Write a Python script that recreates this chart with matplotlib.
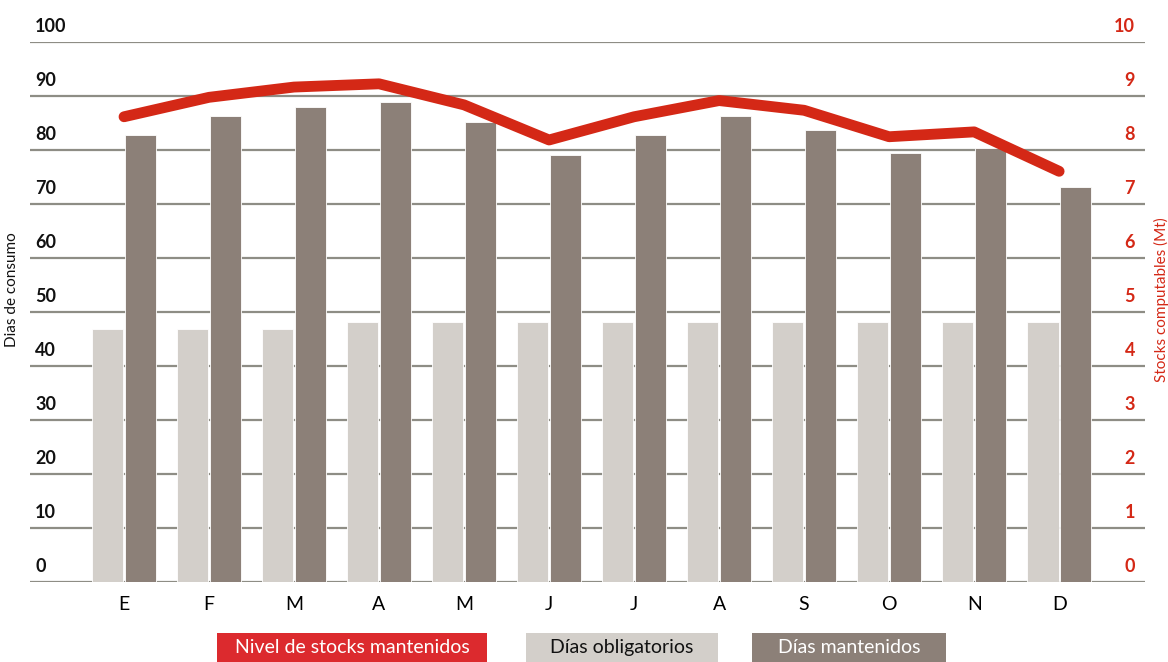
import matplotlib
matplotlib.use("Agg")
import matplotlib.pyplot as plt
from matplotlib.patches import Rectangle
import matplotlib.transforms as mtransforms

months = ["E", "F", "M", "A", "M", "J", "J", "A", "S", "O", "N", "D"]
dias_obligatorios = [46.8, 46.8, 46.8, 48.1, 48.1, 48.1, 48.1, 48.1, 48.1, 48.1, 48.1, 48.1]
dias_mantenidos = [82.7, 86.2, 87.9, 88.9, 85.1, 79.1, 82.8, 86.2, 83.6, 79.3, 80.3, 73.1]
nivel_stocks = [8.61, 8.97, 9.16, 9.22, 8.83, 8.18, 8.61, 8.91, 8.73, 8.24, 8.33, 7.60]
left_ticks = [0, 10, 20, 30, 40, 50, 60, 70, 80, 90, 100]
right_ticks = [0, 1, 2, 3, 4, 5, 6, 7, 8, 9, 10]
legend_labels = ["Nivel de stocks mantenidos", "Días obligatorios", "Días mantenidos"]

plt.rcParams['font.family'] = ['Lato', 'DejaVu Sans']

C_LIGHT = '#d3cfca'
C_DARK = '#8c8078'
C_RED = '#d42816'
C_GRID = '#8e8d85'

W, H = 1168, 662
fig = plt.figure(figsize=(W / 100, H / 100), dpi=100)
ax = fig.add_axes([30 / W, 1 - 581.7 / H, (1145 - 30) / W, (581.7 - 41.7) / H])

x = list(range(len(months)))
bw = 0.365
off = 0.19
ax.bar([i - off for i in x], dias_obligatorios, width=bw, color=C_LIGHT,
       edgecolor='white', linewidth=0.6, zorder=2)
ax.bar([i + off for i in x], dias_mantenidos, width=bw, color=C_DARK,
       edgecolor='white', linewidth=0.6, zorder=2)

ax.set_xlim(-1.106, 12.01)
ax.set_ylim(0, 100)
for t in left_ticks:
    ax.axhline(t, color=C_GRID, lw=1.6, zorder=1)

for s in ax.spines.values():
    s.set_visible(False)
ax.set_yticks([])
ax.set_xticks(x)
ax.set_xticklabels(months, fontsize=14)
ax.tick_params(axis='x', length=0, pad=10)

trans = mtransforms.blended_transform_factory(ax.transAxes, ax.transData)
for t in left_ticks:
    ax.text(5 / (1145 - 30), t + 1.2, str(t), transform=trans, ha='left', va='bottom',
            fontsize=13, color='#111111', fontweight='bold')

ax2 = ax.twinx()
ax2.set_ylim(0, 10)
ax2.plot(x, nivel_stocks, color=C_RED, lw=7.8, solid_capstyle='round',
         solid_joinstyle='round', zorder=5)
for s in ax2.spines.values():
    s.set_visible(False)
ax2.set_yticks([])
trans2 = mtransforms.blended_transform_factory(ax2.transAxes, ax2.transData)
for t in right_ticks:
    ax2.text(1 - 10 / (1145 - 30), t + 0.12, str(t), transform=trans2, ha='right', va='bottom',
             fontsize=13, color=C_RED, fontweight='bold')

fig.text(12 / W, 1 - 290 / H, "Dias de consumo", rotation=90, ha='center', va='center',
         fontsize=11, color='#111111')
fig.text(1161 / W, 1 - 300 / H, "Stocks computables (Mt)", rotation=90, ha='center', va='center',
         fontsize=11, color=C_RED)

# legend boxes
boxes = [(217, 487, '#dc2a2e', 'white'), (526, 718, C_LIGHT, '#111111'), (752, 946, C_DARK, 'white')]
for (x0, x1, fc, tc), lab in zip(boxes, legend_labels):
    y0, y1 = 633, 662
    fig.add_artist(Rectangle((x0 / W, 1 - y1 / H), (x1 - x0) / W, (y1 - y0) / H,
                             transform=fig.transFigure, facecolor=fc, edgecolor='none'))
    fig.text((x0 + x1) / 2 / W, 1 - (y0 + y1) / 2 / H, lab, ha='center', va='center',
             fontsize=14, color=tc)

fig.savefig("out.png", dpi=100)
